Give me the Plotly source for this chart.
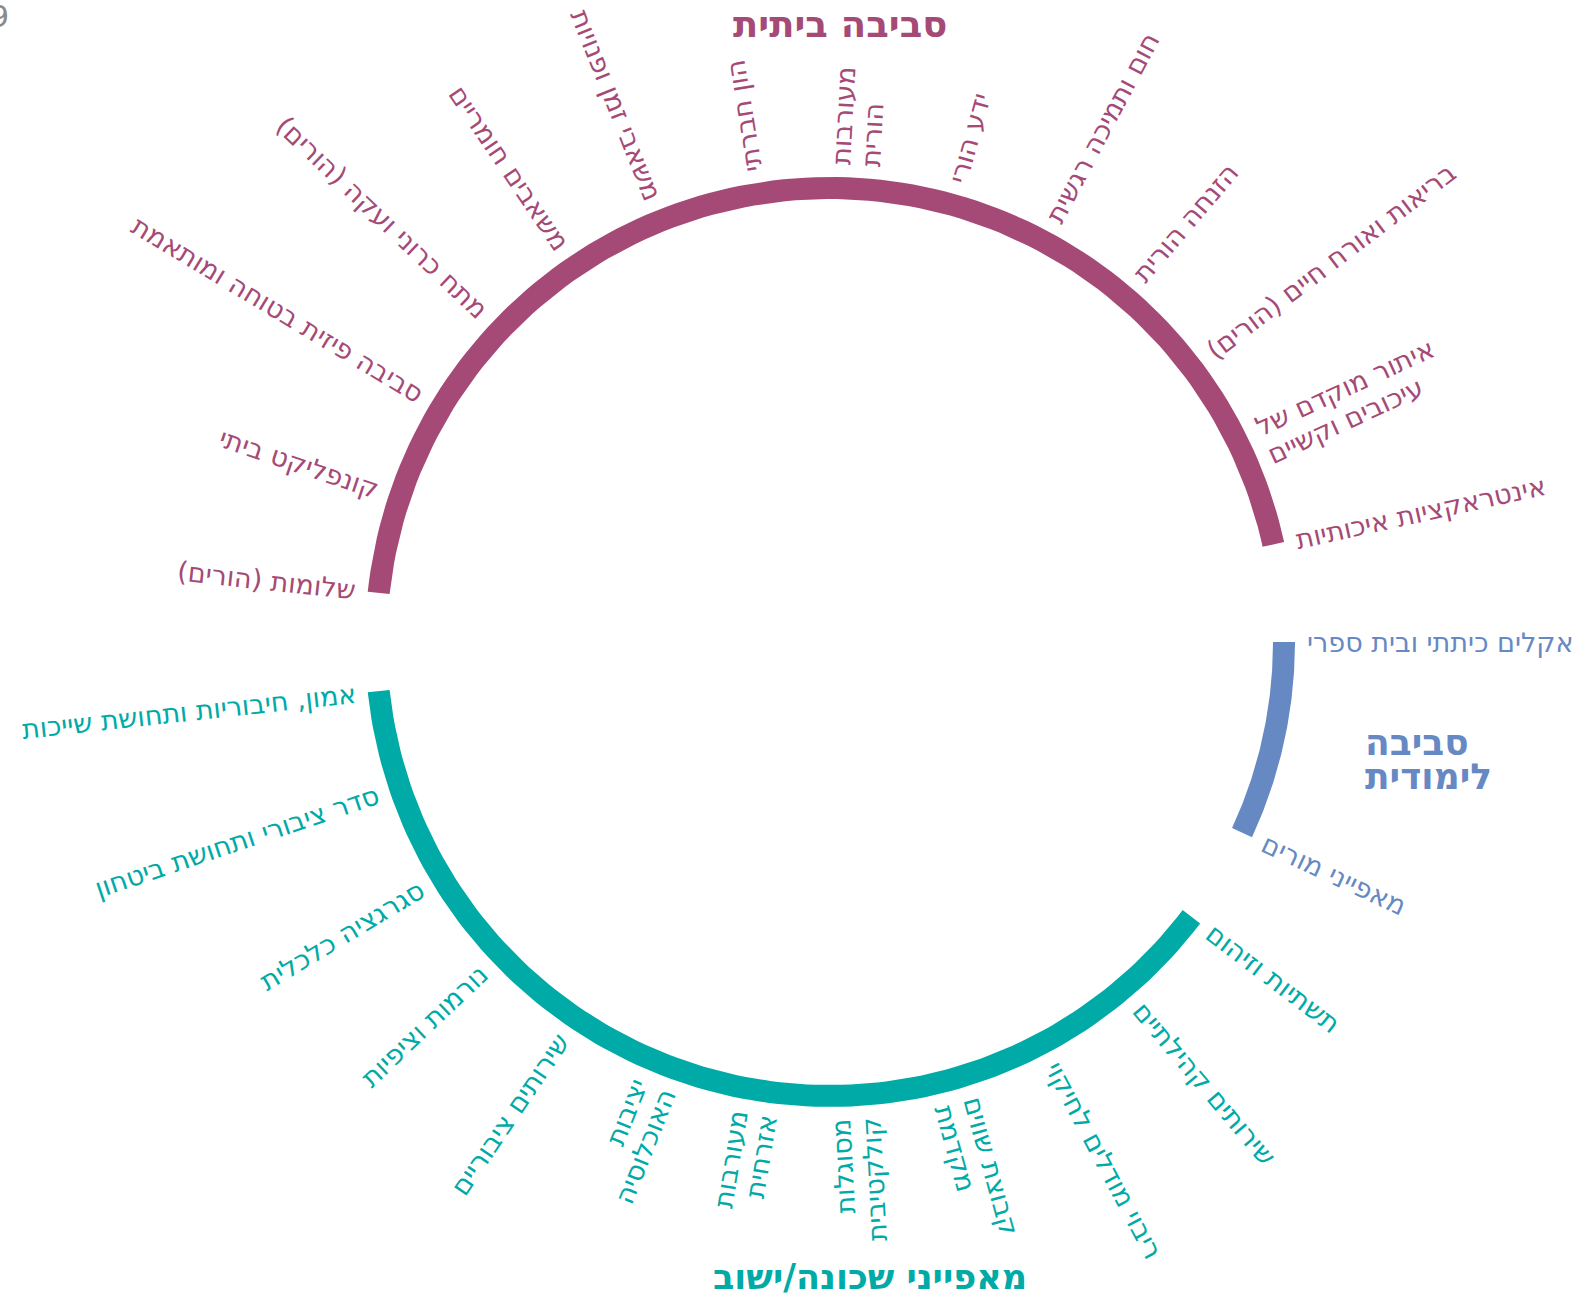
import math
import plotly.graph_objects as go

# ---------------- data ----------------
group_names = ["סביבה ביתית", "מאפייני שכונה/ישוב", "סביבה<br>לימודית"]
group_colors = ["#A54A76", "#00AAA6", "#6689C3"]

home_labels = [
    "אינטראקציות איכותיות",
    "איתור מוקדם של<br>עיכובים וקשיים",
    "בריאות ואורח חיים (הורים)",
    "הזנחה הורית",
    "חום ותמיכה רגשית",
    "ידע הורי",
    "מעורבות<br>הורית",
    "הון חברתי",
    "משאבי זמן ופנויות",
    "משאבים חומריים",
    "מתח כרוני ועקה (הורים)",
    "סביבה פיזית בטוחה ומותאמת",
    "קונפליקט ביתי",
    "שלומות (הורים)",
]
neighborhood_labels = [
    "אמון, חיבוריות ותחושת שייכות",
    "סדר ציבורי ותחושת ביטחון",
    "סגרגציה כלכלית",
    "נורמות וציפיות",
    "שירותים ציבוריים",
    "יציבות<br>האוכלוסיה",
    "מעורבות<br>אזרחית",
    "מסוגלות<br>קולקטיבית",
    "קבוצת שווים<br>מקדמת",
    "ריבוי מודלים לחיקוי",
    "שירותים קהילתיים",
    "תשתיות וזיהום",
]
learning_labels = ["מאפייני מורים", "", "אקלים כיתתי ובית ספרי"]
groups = [home_labels, neighborhood_labels, learning_labels]

corner_text = "9"

# ---------------- layout constants ----------------
W, H = 1578, 1297
CX, CY = 830, 642
R_ARC = 454
ARC_W = 22
R_LAB = 477
FS = 27
LINE_GAP = 30
FONT = "DejaVu Sans"
title_pos = [(840, 24), (870, 1277), (1365, 759)]
title_anchor = ["center", "center", "left"]
title_fs = [37, 35, 36]
title_gap = [0, 0, 34]

n_slots = sum(len(g) for g in groups)
step = 360.0 / n_slots


def pt(r, deg):
    a = math.radians(deg)
    return CX + r * math.cos(a), CY - r * math.sin(a)


fig = go.Figure()
annotations = []

k = 1
for gi, labels in enumerate(groups):
    color = group_colors[gi]
    k0, k1 = k, k + len(labels) - 1
    a0, a1 = k0 * step, k1 * step
    nseg = 120
    angs = [a0 + (a1 - a0) * i / nseg for i in range(nseg + 1)]
    xs, ys = [], []
    for a in angs:
        x, y = pt(R_ARC + ARC_W / 2, a)
        xs.append(x); ys.append(y)
    for a in reversed(angs):
        x, y = pt(R_ARC - ARC_W / 2, a)
        xs.append(x); ys.append(y)
    xs.append(xs[0]); ys.append(ys[0])
    fig.add_trace(go.Scatter(x=xs, y=ys, mode="lines", fill="toself",
                             fillcolor=color, line=dict(width=0, color=color),
                             hoverinfo="skip", showlegend=False))

    for j, text in enumerate(labels):
        kk = k + j
        if not text:
            continue
        phi = kk * step
        lines = text.split("<br>")
        nl = len(lines)
        h = FS * 1.164
        Mx0, My0 = pt(R_LAB, phi)
        right_rule = ((phi + 80) % 360) < 180
        if right_rule:
            T = -phi
            near = "left"
        else:
            T = 180 - phi
            near = "right"
        T = ((T + 180) % 360) - 180
        t = math.radians(T)
        u = (math.cos(t), math.sin(t))
        v = (-math.sin(t), math.cos(t))
        nd = (-u[0], -u[1]) if near == "left" else u
        for li, line in enumerate(lines):
            off = (li - (nl - 1) / 2) * LINE_GAP
            Mx = Mx0 + off * v[0]
            My = My0 + off * v[1]
            if nd[0] >= 0:
                xa, x = "right", Mx + h / 2 * abs(v[0])
            else:
                xa, x = "left", Mx - h / 2 * abs(v[0])
            if nd[1] >= 0:
                ya, y = "bottom", My + h / 2 * abs(v[1])
            else:
                ya, y = "top", My - h / 2 * abs(v[1])
            annotations.append(dict(
                x=x, y=y, xref="x", yref="y", text=line, showarrow=False,
                textangle=T, xanchor=xa, yanchor=ya,
                font=dict(family=FONT, size=FS, color=color),
                borderpad=0, borderwidth=0))
    k += len(labels)

for gi, name in enumerate(group_names):
    tx, ty = title_pos[gi]
    lines = name.split("<br>")
    nl = len(lines)
    for li, line in enumerate(lines):
        off = (li - (nl - 1) / 2) * title_gap[gi]
        annotations.append(dict(
            x=tx, y=ty + off, xref="x", yref="y", text="<b>" + line + "</b>",
            showarrow=False, xanchor=title_anchor[gi], yanchor="middle",
            font=dict(family=FONT, size=title_fs[gi], color=group_colors[gi]),
            borderpad=0, borderwidth=0))

annotations.append(dict(x=11, y=16, xref="x", yref="y", text=corner_text,
                        showarrow=False, xanchor="right", yanchor="middle",
                        font=dict(family=FONT, size=30, color="#8a8a8a")))

fig.update_layout(
    width=W, height=H,
    margin=dict(l=0, r=0, t=0, b=0, pad=0),
    paper_bgcolor="white", plot_bgcolor="white",
    xaxis=dict(range=[0, W], visible=False, fixedrange=True),
    yaxis=dict(range=[H, 0], visible=False, fixedrange=True),
    annotations=annotations,
    showlegend=False,
)

fig.write_html("out.html", config={"displayModeBar": False},
               post_script="document.body.style.margin='0';document.body.style.overflow='hidden';")
